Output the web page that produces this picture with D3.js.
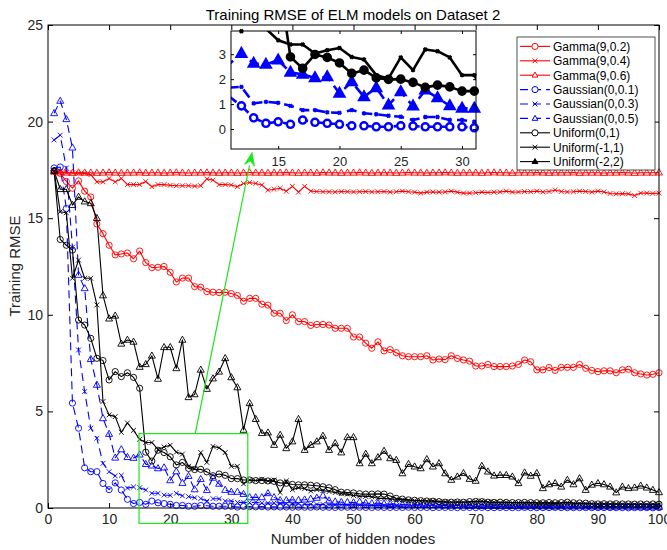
<!DOCTYPE html>
<html>
<head>
<meta charset="utf-8">
<script src="https://cdn.jsdelivr.net/npm/d3@7"></script>
<style>
  body { margin: 0; background: #fff; }
  svg { display: block; font-family: "Liberation Sans", Arial, sans-serif; }
</style>
</head>
<body>
<svg id="chart" width="667" height="550"></svg>
<script>
// Number of hidden nodes evaluated (1..100)
const hiddenNodes = d3.range(1, 101);

const xTicks = [0, 10, 20, 30, 40, 50, 60, 70, 80, 90, 100];
const yTicks = [0, 5, 10, 15, 20, 25];
const insetXTicks = [15, 20, 25, 30];
const insetYTicks = [0, 1, 2, 3];

const seriesNames = [
  "Gamma(9,0.2)", "Gamma(9,0.4)", "Gamma(9,0.6)",
  "Gaussian(0,0.1)", "Gaussian(0,0.3)", "Gaussian(0,0.5)",
  "Uniform(0,1)", "Uniform(-1,1)", "Uniform(-2,2)"
];

// Training RMSE for each weight initialisation, hidden nodes 1..100
const gamma02 = [
  17.45,17.32,16.90,16.55,16.93,16.40,16.10,14.70,14.20,13.60,
  13.10,13.15,13.20,12.90,13.30,12.70,12.44,12.46,12.50,12.20,
  11.70,11.90,11.90,11.46,11.43,11.20,11.17,11.15,11.17,11.10,
  11.00,10.70,10.85,10.85,10.55,10.50,10.08,10.08,9.70,10.00,
  9.65,9.65,9.45,9.50,9.50,9.47,9.30,9.30,9.30,8.85,
  8.85,8.53,8.27,8.60,8.13,8.20,8.04,7.88,7.83,7.83,
  7.83,7.88,7.66,7.71,7.68,7.88,7.74,7.66,7.60,7.35,
  7.35,7.43,7.32,7.32,7.32,7.35,7.43,7.66,7.57,7.15,
  7.15,7.27,7.12,7.28,7.28,7.28,7.43,7.23,7.12,7.06,
  7.10,7.10,7.00,7.15,7.18,7.00,6.94,6.88,6.92,7.00
];
const gamma04 = [
  17.40,17.40,17.36,17.35,17.33,17.32,17.25,16.88,16.88,17.06,
  16.88,17.06,16.74,16.74,16.74,16.90,16.63,16.74,16.74,16.70,
  16.68,16.68,16.68,16.66,16.68,17.03,16.97,16.74,16.74,16.72,
  16.63,16.80,16.85,16.80,16.72,16.45,16.50,16.55,16.40,16.65,
  16.35,16.65,16.40,16.38,16.37,16.37,16.36,16.38,16.37,16.36,
  16.37,16.38,16.36,16.37,16.38,16.35,16.37,16.40,16.37,16.35,
  16.30,16.35,16.36,16.35,16.36,16.40,16.35,16.30,16.30,16.32,
  16.35,16.33,16.35,16.36,16.40,16.35,16.36,16.38,16.37,16.40,
  16.36,16.38,16.46,16.38,16.36,16.37,16.40,16.38,16.35,16.40,
  16.36,16.28,16.26,16.27,16.26,16.17,16.30,16.30,16.28,16.30
];
const gamma06 = [
  17.40,17.36,17.35,17.34,17.36,17.35,17.35,17.34,17.35,17.36,
  17.35,17.34,17.35,17.35,17.36,17.34,17.35,17.35,17.34,17.35,
  17.36,17.35,17.34,17.35,17.35,17.36,17.35,17.34,17.35,17.35,
  17.34,17.35,17.36,17.35,17.35,17.34,17.35,17.35,17.36,17.35,
  17.34,17.35,17.35,17.34,17.36,17.35,17.35,17.34,17.35,17.35,
  17.36,17.35,17.34,17.35,17.35,17.35,17.34,17.35,17.36,17.35,
  17.35,17.34,17.35,17.35,17.36,17.35,17.34,17.35,17.35,17.35,
  17.34,17.35,17.36,17.35,17.35,17.34,17.35,17.35,17.35,17.36,
  17.35,17.34,17.35,17.35,17.35,17.36,17.34,17.35,17.35,17.35,
  17.34,17.35,17.35,17.36,17.35,17.34,17.35,17.35,17.35,17.36
];
const gauss01 = [
  17.60,17.65,15.50,5.43,4.13,2.08,1.88,1.88,1.27,0.95,
  1.30,0.93,0.45,0.23,0.29,0.19,0.36,0.27,0.23,0.19,
  0.13,0.13,0.09,0.09,0.13,0.12,0.09,0.09,0.09,0.09,
  0.05,0.08,0.07,0.06,0.07,0.05,0.06,0.05,0.05,0.04,
  0.05,0.04,0.04,0.05,0.04,0.04,0.03,0.04,0.04,0.03,
  0.04,0.03,0.03,0.04,0.03,0.03,0.03,0.03,0.04,0.03,
  0.03,0.03,0.02,0.03,0.03,0.03,0.02,0.03,0.03,0.02,
  0.03,0.02,0.02,0.03,0.02,0.02,0.02,0.03,0.02,0.02,
  0.02,0.02,0.03,0.02,0.02,0.02,0.02,0.02,0.02,0.02,
  0.02,0.02,0.02,0.02,0.01,0.02,0.02,0.02,0.01,0.02
];
const gauss03 = [
  19.05,19.30,17.60,13.50,8.18,6.03,4.13,3.61,2.31,1.88,
  1.66,1.69,1.03,1.09,1.05,0.93,0.76,0.76,0.67,0.65,
  0.76,0.63,0.59,0.53,0.49,0.36,0.48,0.48,0.36,0.36,
  0.29,0.30,0.28,0.30,0.26,0.25,0.26,0.23,0.22,0.21,
  0.22,0.20,0.19,0.18,0.19,0.17,0.16,0.16,0.15,0.14,
  0.14,0.13,0.13,0.12,0.12,0.11,0.11,0.10,0.11,0.10,
  0.09,0.10,0.09,0.09,0.08,0.09,0.08,0.08,0.08,0.07,
  0.08,0.07,0.07,0.07,0.07,0.06,0.07,0.06,0.06,0.06,
  0.06,0.06,0.05,0.06,0.05,0.06,0.05,0.05,0.05,0.05,
  0.05,0.05,0.04,0.05,0.05,0.04,0.05,0.04,0.04,0.04
];
const gauss05 = [
  20.43,21.07,20.12,18.65,12.06,11.37,7.70,6.37,4.64,3.83,
  2.60,3.03,2.63,2.59,2.76,2.27,2.19,2.05,2.09,1.43,
  1.89,1.29,1.65,0.96,1.49,0.92,1.56,1.25,0.93,0.83,
  0.83,0.72,0.55,0.55,0.55,0.76,0.55,0.40,0.40,0.42,
  0.41,0.43,0.47,0.52,0.64,0.38,0.33,0.30,0.30,0.28,
  0.32,0.26,0.24,0.25,0.22,0.20,0.22,0.18,0.17,0.16,
  0.16,0.15,0.14,0.15,0.13,0.12,0.13,0.12,0.11,0.12,
  0.10,0.11,0.10,0.09,0.10,0.09,0.09,0.08,0.09,0.08,
  0.08,0.08,0.07,0.08,0.07,0.07,0.08,0.07,0.07,0.06,
  0.07,0.06,0.06,0.07,0.06,0.06,0.06,0.05,0.06,0.05
];
const unif01 = [
  17.45,13.90,13.60,13.35,9.73,9.47,8.78,7.75,7.63,6.63,
  7.06,6.80,7.00,6.76,6.20,2.89,2.43,2.99,2.87,2.65,
  2.23,2.36,2.05,1.99,2.00,1.87,1.67,1.76,1.69,1.52,
  1.52,1.45,1.45,1.42,1.42,1.40,1.38,1.30,1.28,1.22,
  1.20,1.20,1.18,1.15,1.10,1.05,0.95,0.82,0.80,0.78,
  0.74,0.72,0.72,0.73,0.72,0.62,0.50,0.46,0.42,0.40,
  0.38,0.36,0.35,0.33,0.30,0.30,0.31,0.30,0.33,0.34,
  0.33,0.30,0.29,0.30,0.29,0.28,0.28,0.29,0.28,0.27,
  0.27,0.28,0.27,0.28,0.30,0.27,0.26,0.25,0.22,0.21,
  0.22,0.21,0.22,0.21,0.21,0.20,0.21,0.20,0.21,0.20
];
const unif11 = [
  17.45,15.33,15.28,11.89,12.83,11.89,11.89,10.51,5.51,4.82,
  4.73,3.92,4.40,4.02,3.56,3.39,3.39,3.03,3.16,3.25,
  2.89,2.79,2.16,2.03,2.87,2.36,3.19,3.12,2.87,2.16,
  2.16,1.25,1.45,1.42,1.48,1.40,1.45,0.80,1.40,0.95,
  1.05,1.00,0.88,0.95,0.90,0.85,0.80,0.75,0.72,0.65,
  0.62,0.60,0.58,0.50,0.50,0.46,0.45,0.42,0.40,0.38,
  0.38,0.36,0.37,0.34,0.33,0.30,0.32,0.30,0.30,0.35,
  0.36,0.31,0.30,0.28,0.29,0.27,0.28,0.26,0.27,0.25,
  0.26,0.25,0.24,0.25,0.28,0.24,0.23,0.22,0.22,0.21,
  0.20,0.20,0.21,0.19,0.20,0.19,0.19,0.18,0.19,0.18
];
const unif22 = [
  17.45,16.50,16.50,15.68,16.10,15.86,15.77,15.00,11.00,9.80,
  9.95,8.50,8.70,8.60,7.30,7.44,7.88,6.68,8.32,8.32,
  7.23,8.70,5.73,5.88,7.15,6.16,6.70,7.05,7.75,6.76,
  6.24,4.04,5.42,4.60,3.87,3.90,3.26,3.78,3.09,3.44,
  4.60,3.00,3.26,3.44,3.73,3.00,3.35,2.87,3.66,3.66,
  2.31,2.80,2.31,2.62,2.95,2.57,2.48,1.79,2.27,2.14,
  2.05,2.52,2.14,2.31,1.79,1.45,1.62,1.80,1.50,1.40,
  2.17,1.88,1.67,1.70,1.70,1.62,1.28,1.83,1.66,1.80,
  1.02,1.22,1.28,1.10,1.45,1.22,1.53,0.93,1.20,1.28,
  1.22,1.10,0.80,1.10,1.02,1.05,1.15,1.05,0.93,0.81
];

// Plot styling per series (drawn in this order, last on top)
const RED = "#ff0000", BLUE = "#0000ff", BLACK = "#000000";
const series = [
  { name: seriesNames[0], values: gamma02, color: RED,   marker: "o", dashed: false },
  { name: seriesNames[1], values: gamma04, color: RED,   marker: "x", dashed: false },
  { name: seriesNames[2], values: gamma06, color: RED,   marker: "^", dashed: false },
  { name: seriesNames[3], values: gauss01, color: BLUE,  marker: "o", dashed: true },
  { name: seriesNames[4], values: gauss03, color: BLUE,  marker: "x", dashed: true },
  { name: seriesNames[5], values: gauss05, color: BLUE,  marker: "^", dashed: true },
  { name: seriesNames[6], values: unif01,  color: BLACK, marker: "o", dashed: false },
  { name: seriesNames[7], values: unif11,  color: BLACK, marker: "x", dashed: false },
  { name: seriesNames[8], values: unif22,  color: BLACK, marker: "^", dashed: false }
];

// Zoomed region (data units) and the arrow leading to the inset
const zoomBox = { x0: 14.9, x1: 32.7, y0: -0.8, y1: 3.85 };
const arrowFrom = [24.1, 3.85];
const arrowTo = [33.4, 18.4];

const svg = d3.select("#chart");
const FONT = '"Liberation Sans", Arial, sans-serif';

svg.append("rect").attr("width", 667).attr("height", 550).attr("fill", "#fff");

// ---------- main axes ----------
const plot = { left: 48, right: 659, top: 25, bottom: 508 };
const x = d3.scaleLinear().domain([0, 100]).range([plot.left, plot.right]);
const y = d3.scaleLinear().domain([0, 25]).range([plot.bottom, plot.top]);

function markerPath(type, s) {
  if (type === "o") return `M${s},0A${s},${s} 0 1,1 ${-s},0A${s},${s} 0 1,1 ${s},0Z`;
  if (type === "x") return `M${-s},${-s}L${s},${s}M${-s},${s}L${s},${-s}`;
  return `M0,${-s}L${s * 0.92},${s * 0.62}L${-s * 0.92},${s * 0.62}Z`;
}

function drawAxes(g, sx, sy, xt, yt, tick, fontSize, xPad, yPad) {
  const [x0, x1] = sx.range();
  const [y0, y1] = sy.range();
  const fmt = d3.format("d");
  g.append("g").attr("transform", `translate(0,${y0})`)
    .call(d3.axisBottom(sx).tickValues(xt).tickFormat(fmt).tickSize(-tick).tickSizeOuter(0).tickPadding(xPad));
  g.append("g").attr("transform", `translate(${x0},0)`)
    .call(d3.axisLeft(sy).tickValues(yt).tickFormat(fmt).tickSize(-tick).tickSizeOuter(0).tickPadding(yPad));
  g.append("g").attr("transform", `translate(0,${y1})`)
    .call(d3.axisTop(sx).tickValues(xt).tickSize(-tick).tickSizeOuter(0).tickFormat(""));
  g.append("g").attr("transform", `translate(${x1},0)`)
    .call(d3.axisRight(sy).tickValues(yt).tickSize(-tick).tickSizeOuter(0).tickFormat(""));
  g.selectAll(".domain").remove();
  g.selectAll(".tick line").attr("stroke", "#000").attr("stroke-width", 1);
  g.selectAll(".tick text").attr("font-family", FONT).attr("font-size", fontSize).attr("fill", "#262626");
  g.append("rect").attr("x", x0).attr("y", y1).attr("width", x1 - x0).attr("height", y0 - y1)
    .attr("fill", "none").attr("stroke", "#000").attr("stroke-width", 1);
}

function drawSeries(g, sx, sy, clipId, opt) {
  const [xd0, xd1] = sx.domain();
  const [yd0, yd1] = sy.domain();
  const line = d3.line().x(d => sx(d.n)).y(d => sy(d.v));
  const lines = g.append("g").attr("clip-path", `url(#${clipId})`);
  const marks = g.append("g");
  series.forEach(s => {
    const pts = hiddenNodes.map((n, i) => ({ n, v: s.values[i] }));
    lines.append("path").datum(pts)
      .attr("d", line)
      .attr("fill", "none")
      .attr("stroke", s.color)
      .attr("stroke-width", opt.lw)
      .attr("stroke-linejoin", "round")
      .attr("stroke-dasharray", s.dashed ? opt.dash : null);
    const inside = pts.filter(p => p.n >= xd0 && p.n <= xd1 && p.v >= yd0 && p.v <= yd1 + 0.01);
    const size = opt.size[s.marker];
    marks.selectAll(null).data(inside).enter().append("path")
      .attr("transform", p => `translate(${sx(p.n)},${sy(p.v)})`)
      .attr("d", markerPath(s.marker, size))
      .attr("fill", opt.fill(s))
      .attr("stroke", s.color)
      .attr("stroke-width", opt.mw);
  });
}

const defs = svg.append("defs");
defs.append("clipPath").attr("id", "clipMain").append("rect")
  .attr("x", plot.left).attr("y", plot.top)
  .attr("width", plot.right - plot.left).attr("height", plot.bottom - plot.top);

const main = svg.append("g");
drawSeries(main, x, y, "clipMain", {
  lw: 1.1, mw: 0.9, dash: "8,5",
  size: { o: 3.1, x: 2.4, "^": 3.8 },
  fill: () => "none"
});
drawAxes(main, x, y, xTicks, yTicks, 5, 14, 6, 5);

// Title and axis labels
svg.append("text").attr("x", 353).attr("y", 20).attr("text-anchor", "middle")
  .attr("font-family", FONT).attr("font-size", 15).attr("fill", "#000")
  .text("Training RMSE of ELM models on Dataset 2");
svg.append("text").attr("x", 353).attr("y", 544).attr("text-anchor", "middle")
  .attr("font-family", FONT).attr("font-size", 15).attr("fill", "#262626")
  .text("Number of hidden nodes");
svg.append("text").attr("transform", "translate(20,266) rotate(-90)").attr("text-anchor", "middle")
  .attr("font-family", FONT).attr("font-size", 15).attr("fill", "#262626")
  .text("Training RMSE");

// ---------- zoom box and arrow ----------
const GREEN = "#1be61b";
svg.append("rect")
  .attr("x", x(zoomBox.x0)).attr("y", y(zoomBox.y1))
  .attr("width", x(zoomBox.x1) - x(zoomBox.x0)).attr("height", y(zoomBox.y0) - y(zoomBox.y1))
  .attr("fill", "none").attr("stroke", GREEN).attr("stroke-width", 1.2);
{
  const ax = x(arrowFrom[0]), ay = y(arrowFrom[1]);
  const bx = x(arrowTo[0]), by = y(arrowTo[1]);
  const ang = Math.atan2(by - ay, bx - ax);
  const L = 13, W = 5;
  const hx = bx - L * Math.cos(ang), hy = by - L * Math.sin(ang);
  svg.append("line").attr("x1", ax).attr("y1", ay).attr("x2", hx).attr("y2", hy)
    .attr("stroke", GREEN).attr("stroke-width", 1.2);
  const px = -Math.sin(ang) * W, py = Math.cos(ang) * W;
  svg.append("path")
    .attr("d", `M${bx},${by}L${hx + px},${hy + py}L${hx + 0.35 * L * Math.cos(ang)},${hy + 0.35 * L * Math.sin(ang)}L${hx - px},${hy - py}Z`)
    .attr("fill", GREEN).attr("stroke", GREEN).attr("stroke-width", 0.8);
}

// ---------- inset ----------
const inset = { left: 231, right: 476, top: 31, bottom: 149 };
const ix = d3.scaleLinear().domain([11.15, 31.14]).range([inset.left, inset.right]);
const iy = d3.scaleLinear().domain([-0.8, 3.93]).range([inset.bottom, inset.top]);
defs.append("clipPath").attr("id", "clipInset").append("rect")
  .attr("x", inset.left).attr("y", inset.top)
  .attr("width", inset.right - inset.left).attr("height", inset.bottom - inset.top);
const ig = svg.append("g");
ig.append("rect").attr("x", inset.left).attr("y", inset.top)
  .attr("width", inset.right - inset.left).attr("height", inset.bottom - inset.top)
  .attr("fill", "#fff");
drawSeries(ig, ix, iy, "clipInset", {
  lw: 2.6, mw: 2.4, dash: "10,6",
  size: { o: 3.6, x: 1.6, "^": 5.2 },
  fill: s => s.marker === "^" ? s.color : (s.color === BLACK ? BLACK : "#fff")
});
drawAxes(ig, ix, iy, insetXTicks, insetYTicks, 3, 13, 8, 5);

// ---------- legend ----------
const lg = svg.append("g");
const legend = { x: 517, y: 37, w: 138, h: 133, rowY: 46.4, rowStep: 14.4 };
lg.append("rect").attr("x", legend.x).attr("y", legend.y).attr("width", legend.w).attr("height", legend.h)
  .attr("fill", "#fff").attr("stroke", "#262626").attr("stroke-width", 0.8);
series.forEach((s, i) => {
  const cy = legend.rowY + i * legend.rowStep;
  lg.append("line").attr("x1", 520).attr("x2", 550).attr("y1", cy).attr("y2", cy)
    .attr("stroke", s.color).attr("stroke-width", 1.1)
    .attr("stroke-dasharray", s.dashed ? "8,5" : null);
  lg.append("path").attr("transform", `translate(535,${cy})`)
    .attr("d", markerPath(s.marker, s.marker === "x" ? 2.4 : 3.1))
    .attr("fill", s.marker === "^" && s.color === BLACK ? BLACK : "#fff")
    .attr("stroke", s.color).attr("stroke-width", 1);
  lg.append("text").attr("x", 553).attr("y", cy).attr("dy", "0.36em")
    .attr("font-family", FONT).attr("font-size", 12).attr("fill", "#000")
    .text(s.name);
});
</script>
</body>
</html>
